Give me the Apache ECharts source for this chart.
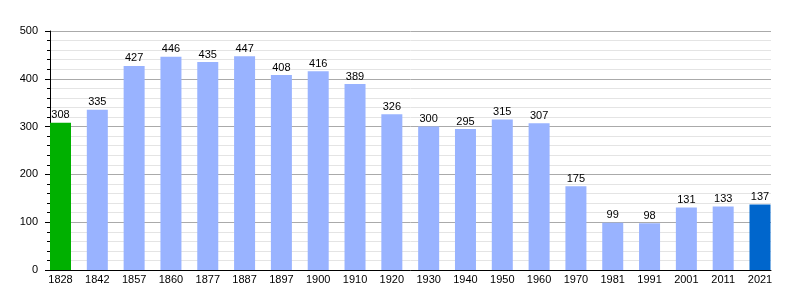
<!DOCTYPE html>
<html><head><meta charset="utf-8">
<script src="https://cdn.jsdelivr.net/npm/echarts@6/dist/echarts.min.js"></script>
<style>html,body{margin:0;padding:0;background:#fff}#c{width:800px;height:300px}</style>
</head><body><div id="c"></div>
<script>
const years = ['1828','1842','1857','1860','1877','1887','1897','1900','1910','1920','1930','1940','1950','1960','1970','1981','1991','2001','2011','2021'];
const population = [308,335,427,446,435,447,408,416,389,326,300,295,315,307,175,99,98,131,133,137];
const yTicks = [0,100,200,300,400,500];
const colorFirst = '#00b000', colorMid = '#99b3ff', colorLast = '#0066cc';

const chart = echarts.init(document.getElementById('c'), null, {renderer:'canvas'});
const font = {fontFamily:'Liberation Sans, Arial, sans-serif', fontSize:11, color:'#000'};
const barData = population.map((v,i)=>({value:v, itemStyle:{color: i===0?colorFirst:(i===population.length-1?colorLast:colorMid)}}));
chart.setOption({
  animation:false,
  grid:[
    {left:50, right:29, top:31, bottom:30},
    {left:60.5, right:40, top:31, bottom:30}
  ],
  xAxis:[
    {gridIndex:0, type:'value', min:0, max:1, axisLine:{show:true, lineStyle:{color:'#000', width:1}}, axisTick:{show:false}, axisLabel:{show:false}, splitLine:{show:false}},
    {gridIndex:1, type:'category', data:years, boundaryGap:false, axisLine:{show:false}, axisTick:{show:false},
     axisLabel:Object.assign({margin:4, interval:0}, font), splitLine:{show:false}}
  ],
  yAxis:[
    {gridIndex:0, type:'value', min:yTicks[0], max:yTicks[yTicks.length-1], interval:100,
     axisLine:{show:true, lineStyle:{color:'#000'}}, axisTick:{show:true, length:5, lineStyle:{color:'#000'}},
     minorTick:{show:true, splitNumber:5, length:3, lineStyle:{color:'#000'}},
     axisLabel:Object.assign({margin:12}, font),
     splitLine:{show:true, lineStyle:{color:'#aaaaaa', width:1}},
     minorSplitLine:{show:true, lineStyle:{color:'#e4e4e4', width:1}}},
    {gridIndex:1, type:'value', min:0, max:500, show:false}
  ],
  series:[{
    type:'bar', xAxisIndex:1, yAxisIndex:1, data:barData, barWidth:21,
    label:Object.assign({show:true, position:'top', distance:2}, font)
  }]
});
</script></body></html>
